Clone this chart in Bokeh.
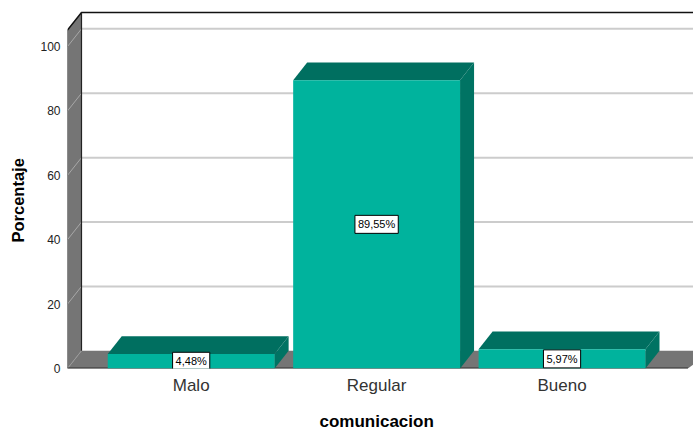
from bokeh.embed import file_html
from bokeh.models import FixedTicker, Label, LinearAxis, Range1d, Title
from bokeh.plotting import figure
from bokeh.resources import INLINE

categories = ["Malo", "Regular", "Bueno"]
percent = [4.48, 89.55, 5.97]
value_labels = ["4,48%", "89,55%", "5,97%"]
y_ticks = [0, 20, 40, 60, 80, 100]

FRONT = "#00b39d"
TOP = "#006f60"
SIDE = "#007363"
WALL = "#757575"
GRID = "#cccccc"

# Depth of the 3D box and bar width, in axis units
DX = 0.0755
DY = 5.5
BAR_W = 0.90
X0, X1 = -0.667, 2.709
Y_TOP = 111.2
WALL_TOP = 110.6

p = figure(width=693, height=435, output_backend="svg", toolbar_location=None,
           x_range=Range1d(X0, X1), y_range=Range1d(0, Y_TOP),
           min_border_left=67, min_border_right=0, min_border_top=10, min_border_bottom=67,
           outline_line_color=None, background_fill_color="white", border_fill_color="white")
p.grid.visible = False

# Walls and floor
p.patch([X0, X0 + DX, X0 + DX, X0], [0, DY, WALL_TOP, WALL_TOP - DY], color=WALL, line_width=0)
p.patch([X0, X0 + DX, X1 + 0.1, X1 - 0.03], [0, DY, DY, 0], color=WALL, line_width=0)

# Gridlines across the back wall and down the side wall
for t in y_ticks[1:]:
    p.line([X0 + DX, X1], [t + DY, t + DY], line_color=GRID, line_width=2)
    p.line([X0, X0 + DX], [t, t + DY], line_color="#a8a8a8", line_width=1)
p.line([X0, X0 + DX], [0, DY], line_color="#9a9a9a", line_width=1)

# Box outline
p.line([X0, X0 + DX, X1], [WALL_TOP - DY, WALL_TOP, WALL_TOP], line_color="#111111", line_width=1.5)
p.line([X0 + DX, X0 + DX], [DY, WALL_TOP], line_color="#222222", line_width=1.2)
p.line([X0, X0], [0, WALL_TOP - DY], line_color="#3a3a3a", line_width=1)
p.line([X0, X1 - 0.03], [0, 0], line_color="#333333", line_width=2)

# Bars: side face, top face, front face
for i, v in enumerate(percent):
    l, r = i - BAR_W / 2, i + BAR_W / 2
    p.patch([r, r + DX, r + DX, r], [0, DY, v + DY, v], color=SIDE, line_width=0)
    p.patch([l, l + DX, r + DX, r], [v, v + DY, v + DY, v], color=TOP, line_width=0)
    p.patch([l, r, r, l], [0, 0, v, v], color=FRONT, line_width=0)

# Value boxes centred on each bar
for i, (v, s) in enumerate(zip(percent, value_labels)):
    p.add_layout(Label(x=i, y=v / 2, text=s, text_font="Liberation Sans", text_font_size="11px",
                       text_color="black", text_align="center", text_baseline="middle",
                       background_fill_color="white", border_line_color="black", border_line_width=1,
                       padding=3))

p.xaxis.ticker = FixedTicker(ticks=[0, 1, 2])
p.xaxis.major_label_overrides = dict(enumerate(categories))
p.xaxis.major_label_text_font = "Liberation Sans"
p.xaxis.major_label_text_font_size = "17px"
p.xaxis.major_label_text_color = "#333333"
p.xaxis.major_label_standoff = 1
p.xaxis.major_tick_line_color = None
p.xaxis.minor_tick_line_color = None
p.xaxis.axis_line_color = None

p.yaxis.ticker = FixedTicker(ticks=y_ticks)
p.yaxis.major_label_text_font = "Liberation Sans"
p.yaxis.major_label_text_font_size = "12px"
p.yaxis.major_label_text_color = "#222222"
p.yaxis.major_label_standoff = 1
p.yaxis.major_tick_line_color = None
p.yaxis.minor_tick_line_color = None
p.yaxis.axis_line_color = None


def spacer(size, at):
    # A white, unlabelled axis that only reserves room between the tick labels and a title
    return LinearAxis(ticker=FixedTicker(ticks=[at]), axis_line_color=None, major_tick_line_color="white",
                      minor_tick_line_color=None, major_tick_out=size, minor_tick_out=0,
                      major_label_standoff=0, major_label_overrides={at: ""},
                      major_label_text_font_size="0px")


p.add_layout(spacer(8, 1), "below")
p.add_layout(spacer(5, 50), "left")

# Axis titles sit off-centre from the plot frame, so they are offset from its start
p.add_layout(Title(text="comunicacion", align="left", offset=252, standoff=8,
                   text_font="Liberation Sans", text_font_style="bold", text_font_size="17px",
                   text_color="black"), "below")
p.add_layout(Title(text="Porcentaje", align="left", offset=126, standoff=12,
                   text_font="Liberation Sans", text_font_style="bold", text_font_size="16.5px",
                   text_color="black"), "left")

open("out.html", "w").write(file_html(p, INLINE))
